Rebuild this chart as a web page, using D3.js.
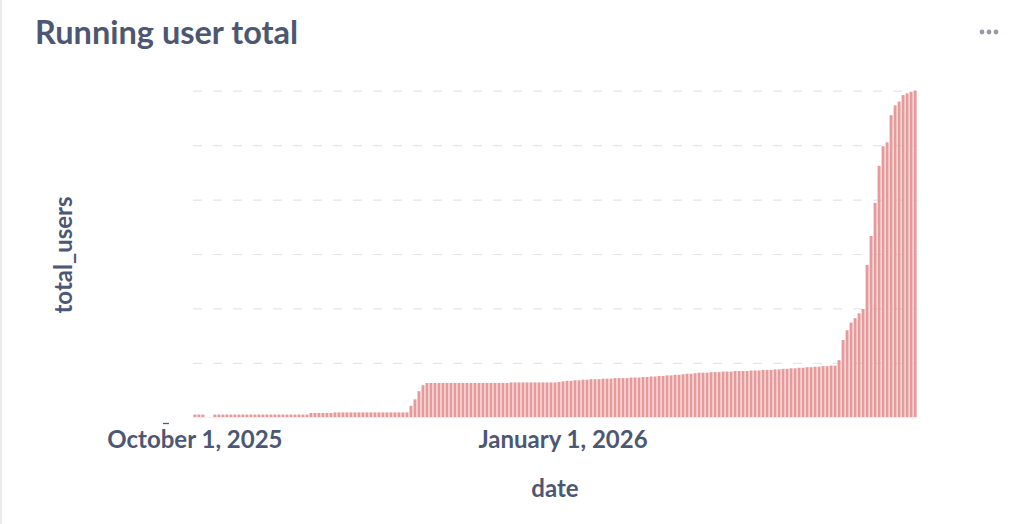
<!DOCTYPE html>
<html><head><meta charset="utf-8">
<script src="https://cdn.jsdelivr.net/npm/d3@7"></script>
<style>
html,body{margin:0;padding:0;background:#fff;}
svg{display:block;font-family:Lato,"Noto Sans",sans-serif;}
</style></head>
<body><svg id="chart" width="1028" height="524"></svg>
<script>
// ---- data ----
const title = "Running user total";
const xLabel = "date";
const yLabel = "total_users";
const startDate = "2025-10-01";
const endDate = "2026-03-30";
const xTickLabels = ["October 1, 2025", "January 1, 2026"];
const xTickDates = ["2025-10-01", "2026-01-01"];
const yTicks = [0, 100, 200, 300, 400, 500, 600];
// running total per day (null = no row that day)
const totalUsers = [
  5, 5, 5, null, null, 5, 5, 5, 5, 5,
  5, 5, 5, 5, 5, 5, 5, 5, 5, 5,
  5, 5, 5, 5, 5, 5, 5, 5, 5, 8,
  8, 8, 8, 8, 8, 9, 9, 9, 9, 9,
  9, 9, 9, 9, 9, 9, 9, 9, 9, 9,
  9, 9, 9, 9, 21, 33, 48, 59, 63, 63,
  63, 63, 63, 63, 63, 63, 63, 63, 63, 63,
  63, 63, 63, 63, 63, 63, 63, 63, 63, 64,
  64, 64, 64, 64, 64, 64, 64, 64, 64, 64,
  64, 65, 66, 67, 67, 68, 68, 69, 69, 70,
  70, 70, 71, 71, 71, 72, 72, 72, 72, 73,
  73, 73, 74, 74, 75, 75, 76, 76, 77, 77,
  78, 78, 79, 80, 80, 81, 82, 82, 82, 83,
  83, 83, 84, 84, 84, 85, 85, 85, 85, 86,
  86, 86, 87, 87, 87, 88, 88, 89, 89, 90,
  90, 91, 91, 92, 92, 93, 93, 94, 94, 95,
  95, 105, 142, 160, 174, 182, 191, 199, 280, 333,
  394, 462, 498, 505, 555, 573, 580, 592, 595, 598,
  600
];

// ---- chart ----
const svg = d3.select("#chart");
const parse = d3.utcParse("%Y-%m-%d");
const days = d3.utcDay.range(parse(startDate), d3.utcDay.offset(parse(endDate), 1));
const rows = days.map((d, i) => ({date: d, value: totalUsers[i]}));
const key = d => d3.utcFormat("%Y-%m-%d")(d);

const plot = {left: 193, right: 917, top: 90.7, bottom: 417.3};
const ink = "#4c5773";

// card
svg.append("rect").attr("x", 0.5).attr("y", -10).attr("width", 1040).attr("height", 540)
  .attr("rx", 8).attr("fill", "#fff").attr("stroke", "#e9ebee").attr("stroke-width", 3);

const x = d3.scaleBand().domain(days.map(key)).range([plot.left, plot.right]).paddingInner(0.25).paddingOuter(0.1);
const y = d3.scaleLinear().domain([0, d3.max(yTicks)]).range([plot.bottom, plot.top]);

// grid
const grid = svg.append("g").attr("transform", `translate(${plot.left},0)`)
  .call(d3.axisLeft(y).tickValues(yTicks.slice(1)).tickSize(-(plot.right - plot.left)).tickFormat(""));
grid.select(".domain").remove();
grid.selectAll(".tick line").attr("stroke", "#e3e5e9").attr("stroke-width", 1.2).attr("stroke-dasharray", "9,11");

// bars
svg.append("g").selectAll("rect").data(rows.filter(r => r.value != null)).join("rect")
  .attr("x", r => x(key(r.date)))
  .attr("width", x.bandwidth())
  .attr("y", r => y(r.value))
  .attr("height", r => y(0) - y(r.value))
  .attr("fill", "#E69A9B");

// baseline
svg.append("line").attr("x1", plot.left).attr("x2", plot.right).attr("y1", y(0) + 0.5).attr("y2", y(0) + 0.5)
  .attr("stroke", "#f0f1f3").attr("stroke-width", 1);

// x axis
const xAxis = d3.axisBottom(x).tickValues(xTickDates).tickSize(0).tickPadding(0)
  .tickFormat((d, i) => xTickLabels[i]);
const gx = svg.append("g").attr("transform", `translate(0,${y(0)})`).call(xAxis);
gx.select(".domain").remove();
gx.selectAll("text").attr("font-family", "Lato, sans-serif").attr("font-size", 24).attr("font-weight", 700)
  .attr("fill", ink).attr("dy", null).attr("y", 31);

// small clipped y tick remnant
svg.append("line").attr("x1", 163).attr("x2", 169).attr("y1", 423.5).attr("y2", 423.5).attr("stroke", "#555b6e").attr("stroke-width", 1.3);

// axis titles
svg.append("text").attr("x", 555).attr("y", 497).attr("text-anchor", "middle")
  .attr("font-size", 24).attr("font-weight", 700).attr("fill", ink).text(xLabel);
svg.append("text").attr("transform", "translate(72,255) rotate(-90)").attr("text-anchor", "middle")
  .attr("font-size", 24).attr("font-weight", 700).attr("fill", ink).text(yLabel);

// title
svg.append("text").attr("x", 35).attr("y", 44).attr("font-size", 32.5).attr("font-weight", 700)
  .attr("fill", ink).text(title);

// menu dots
svg.append("g").selectAll("circle").data([982, 989, 996]).join("circle")
  .attr("cx", d => d).attr("cy", 32).attr("r", 2.4).attr("fill", "#949aab");
</script></body></html>
